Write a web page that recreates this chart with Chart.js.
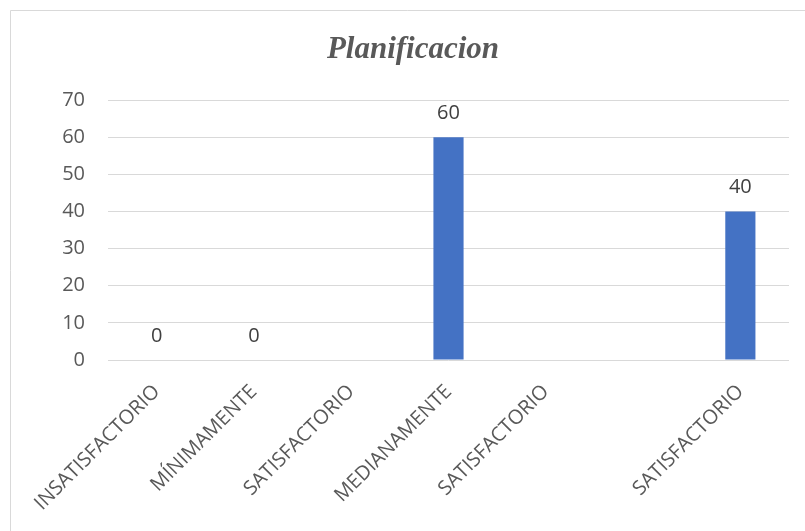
<!DOCTYPE html>
<html lang="es">
<head>
    <meta charset="UTF-8">
    <title>Planificacion</title>
    <script src="https://cdn.jsdelivr.net/npm/chart.js"></script>
    <style>
        html, body { margin: 0; padding: 0; background: #fff; }
        #wrap { width: 805px; height: 531px; }
    </style>
</head>
<body>
    <div id="wrap"><canvas id="planChart" width="805" height="531"></canvas></div>

    <script>
        // Data
        const categories = ['INSATISFACTORIO', 'MÍNIMAMENTE', 'SATISFACTORIO', 'MEDIANAMENTE', 'SATISFACTORIO', '', 'SATISFACTORIO'];
        const values = [0, 0, null, 60, null, null, 40];
        const yTicks = [0, 10, 20, 30, 40, 50, 60, 70];

        // Excel-like frame: only left and top edges are visible in the picture
        const framePlugin = {
            id: 'frame',
            beforeDraw(chart) {
                const c = chart.ctx;
                c.save();
                c.fillStyle = '#ffffff';
                c.fillRect(0, 0, chart.width, chart.height);
                c.strokeStyle = '#d9d9d9';
                c.lineWidth = 1;
                c.beginPath();
                c.moveTo(10.5, chart.height);
                c.lineTo(10.5, 10.5);
                c.lineTo(chart.width, 10.5);
                c.stroke();
                c.restore();
            }
        };

        // Value labels above bars (only where a value exists)
        const valueLabels = {
            id: 'valueLabels',
            afterDatasetsDraw(chart) {
                const c = chart.ctx;
                const meta = chart.getDatasetMeta(0);
                c.save();
                c.font = '20px "Open Sans"';
                c.fillStyle = '#404040';
                c.textAlign = 'center';
                c.textBaseline = 'middle';
                meta.data.forEach((bar, i) => {
                    const v = values[i];
                    if (v === null) return;
                    c.fillText(String(v), bar.x, bar.y - 24);
                });
                c.restore();
            }
        };

        const ctx = document.getElementById('planChart').getContext('2d');
        const planChart = new Chart(ctx, {
            type: 'bar',
            data: {
                labels: categories,
                datasets: [{
                    data: values,
                    backgroundColor: '#4472c4',
                    borderWidth: 0,
                    barPercentage: 1,
                    categoryPercentage: 0.31
                }]
            },
            options: {
                responsive: false,
                animation: false,
                layout: { padding: { left: 37, right: 16, top: 10, bottom: 0 } },
                plugins: {
                    legend: { display: false },
                    tooltip: { enabled: false },
                    title: {
                        display: true,
                        text: 'Planificacion',
                        color: '#595959',
                        font: { family: '"Liberation Serif", "Times New Roman", serif', size: 31, style: 'italic', weight: 'bold' },
                        padding: { top: 21, bottom: 32 }
                    }
                },
                scales: {
                    x: {
                        grid: { display: false },
                        border: { display: false },
                        ticks: {
                            autoSkip: false,
                            maxRotation: 45,
                            minRotation: 45,
                            padding: 12,
                            color: '#595959',
                            font: { family: '"Open Sans"', size: 20 }
                        },
                        afterFit(scale) { scale.height = 171; }
                    },
                    y: {
                        min: 0,
                        max: 70,
                        afterBuildTicks(scale) { scale.ticks = yTicks.map(v => ({ value: v })); },
                        grid: { color: '#d9d9d9', lineWidth: 1, drawTicks: false },
                        border: { display: false },
                        ticks: {
                            padding: 23,
                            color: '#595959',
                            font: { family: '"Open Sans"', size: 20 }
                        },
                        afterFit(scale) { scale.width = 71; }
                    }
                }
            },
            plugins: [framePlugin, valueLabels]
        });
    </script>
</body>
</html>
